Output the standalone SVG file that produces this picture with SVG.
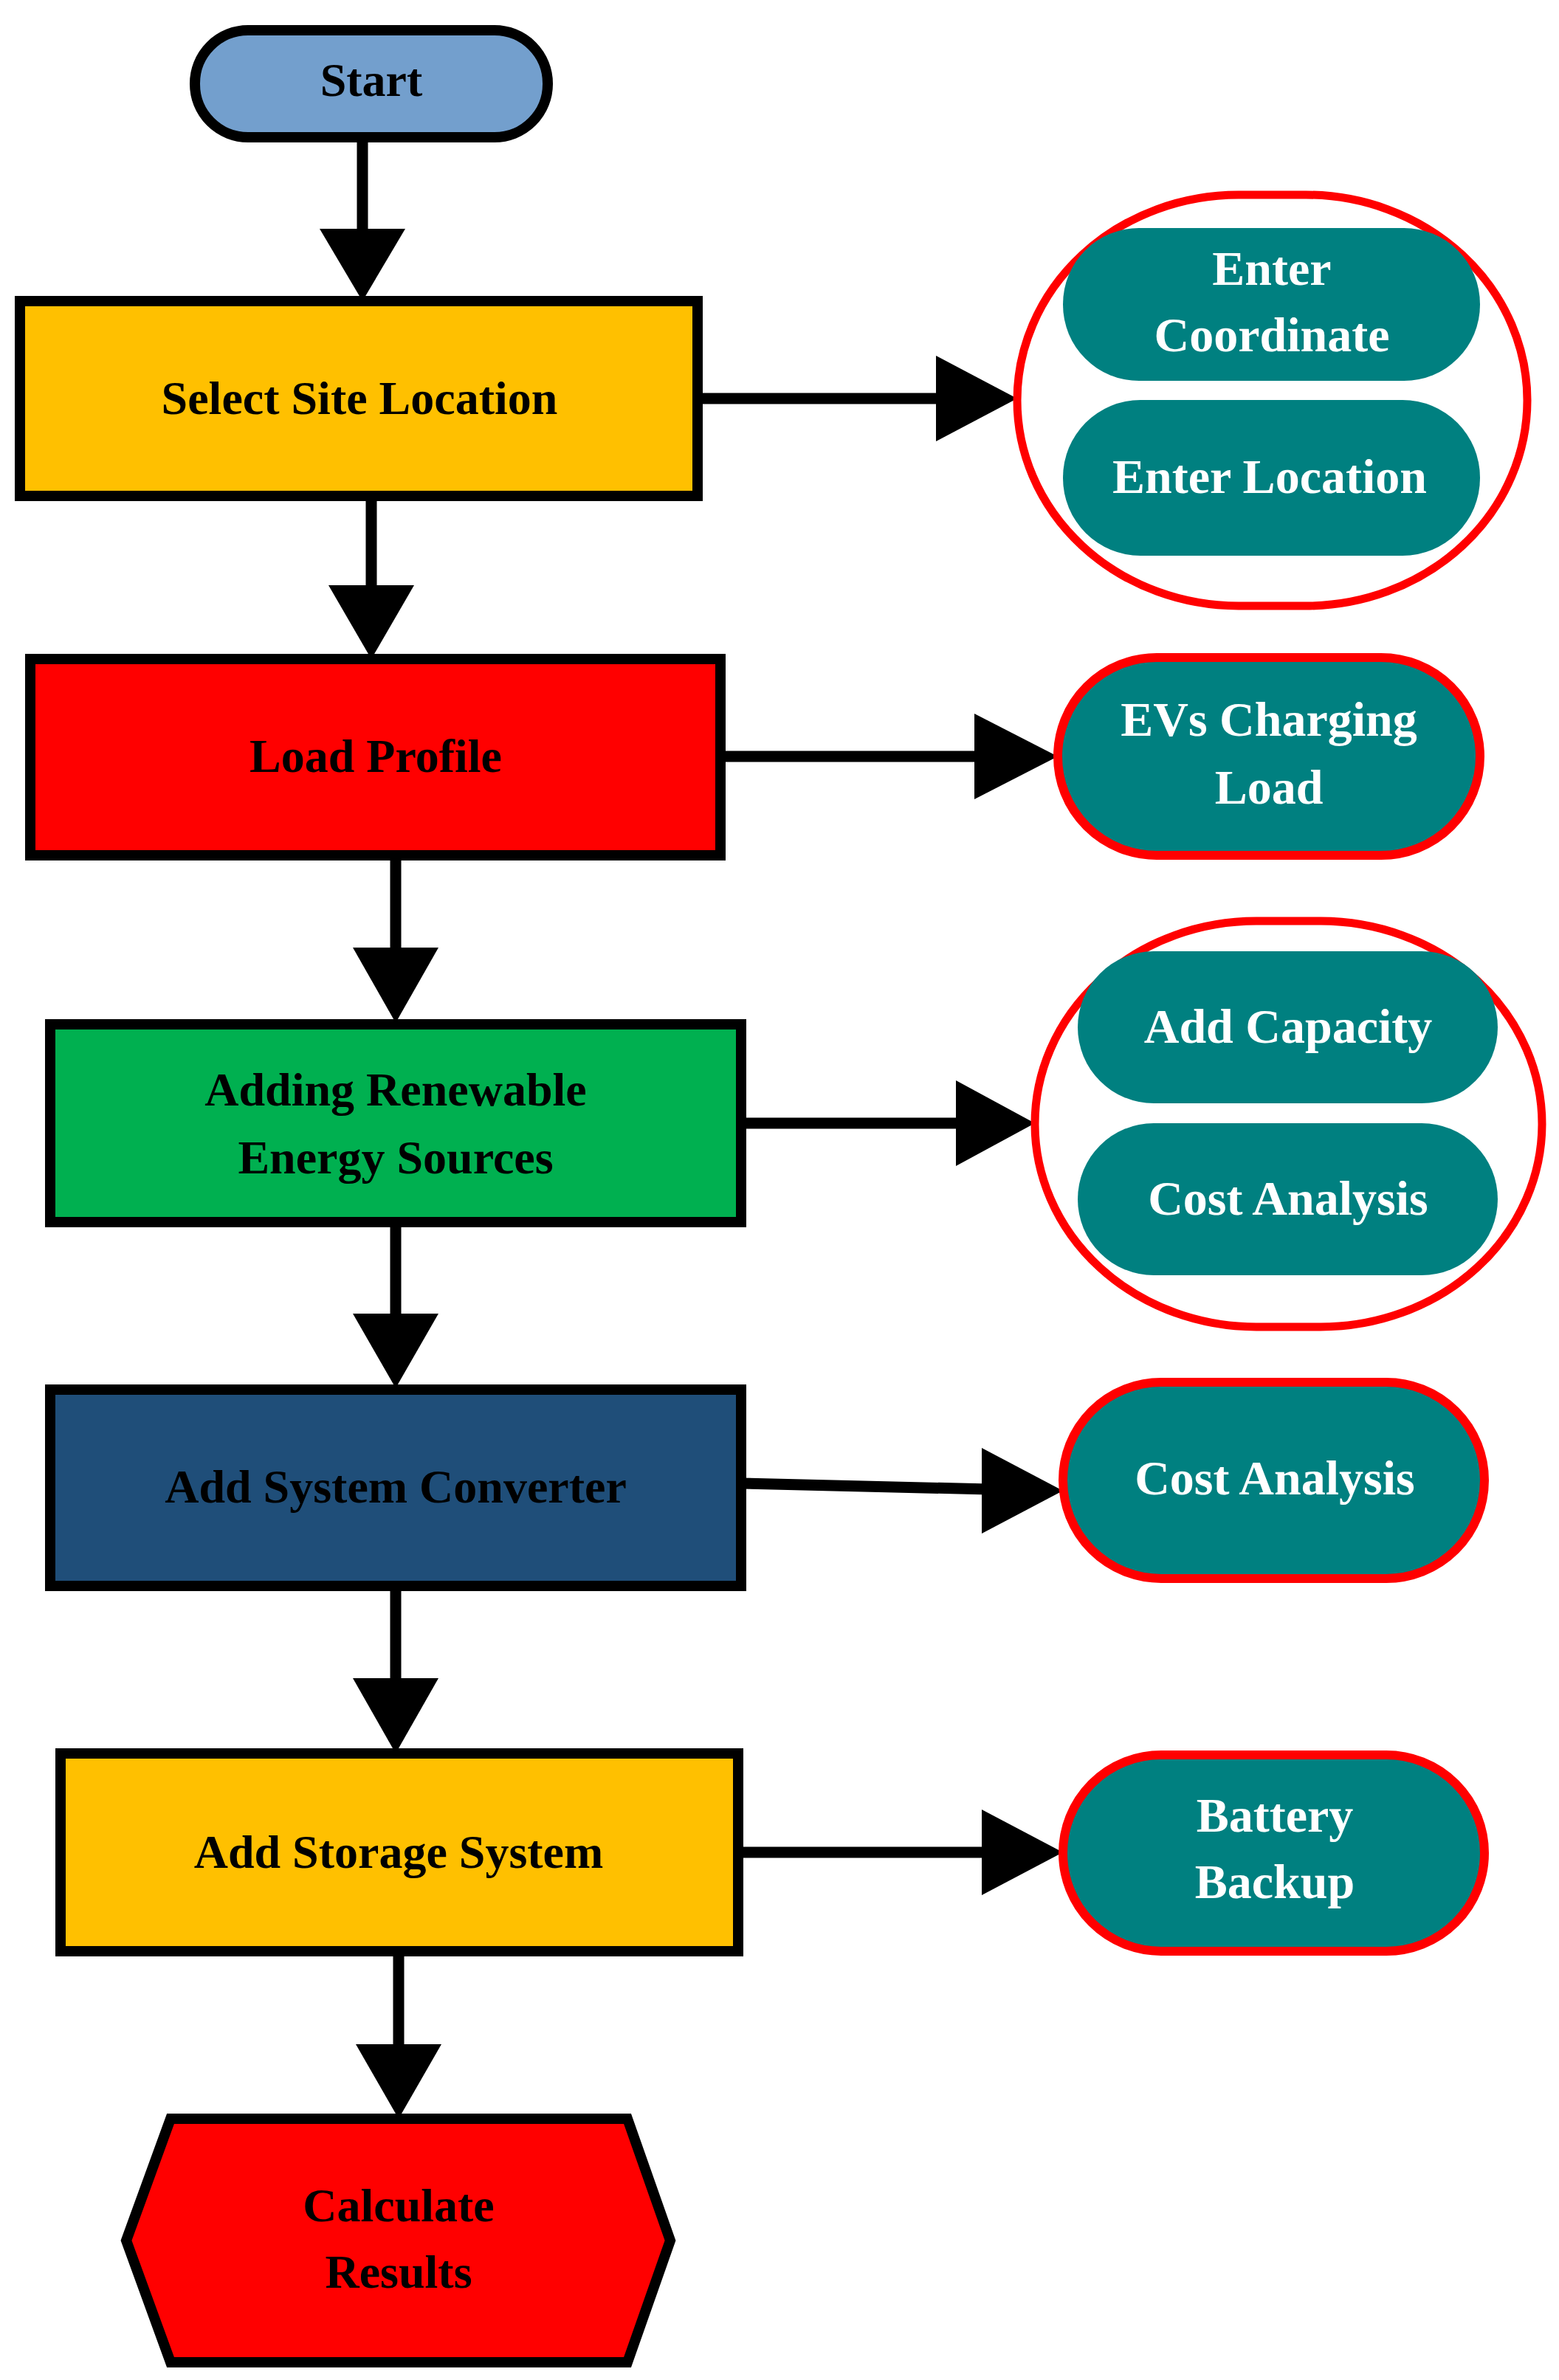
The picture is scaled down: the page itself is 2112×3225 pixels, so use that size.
<svg xmlns="http://www.w3.org/2000/svg" width="2112" height="3225" viewBox="0 0 2112 3225">
<defs>
<style>
.box{stroke:#000;stroke-width:14}
.t{font-family:"Liberation Serif",serif;font-weight:bold;font-size:64px;text-anchor:middle;fill:#000}
.w{font-family:"Liberation Serif",serif;font-weight:bold;font-size:66px;text-anchor:middle;fill:#fff}
.pill{fill:#008080}
.ring{fill:none;stroke:#f00;stroke-width:11}
.pr{fill:#008080;stroke:#f00;stroke-width:12}
.ln{stroke:#000;stroke-width:15;fill:none}
.hd{fill:#000}
</style>
</defs>
<rect width="2112" height="3225" fill="#fff"/>
<g id="connectors">
<line class="ln" x1="491" y1="186" x2="491" y2="320"/><polygon class="hd" points="433,310 549,310 491,408"/>
<line class="ln" x1="945" y1="540" x2="1280" y2="540"/><polygon class="hd" points="1268,482 1268,598 1378,540"/>
<line class="ln" x1="503" y1="672" x2="503" y2="800"/><polygon class="hd" points="445,793 561,793 503,893"/>
<line class="ln" x1="976" y1="1025" x2="1330" y2="1025"/><polygon class="hd" points="1320,967 1320,1083 1433,1025"/>
<line class="ln" x1="536" y1="1159" x2="536" y2="1290"/><polygon class="hd" points="478,1284 594,1284 536,1386"/>
<line class="ln" x1="1004" y1="1522" x2="1305" y2="1522"/><polygon class="hd" points="1295,1464 1295,1580 1402,1522"/>
<line class="ln" x1="536" y1="1656" x2="536" y2="1790"/><polygon class="hd" points="478,1780 594,1780 536,1881"/>
<line class="ln" x1="1004" y1="2010" x2="1340" y2="2018"/><polygon class="hd" points="1330,1962 1330,2078 1440,2020"/>
<line class="ln" x1="536" y1="2149" x2="536" y2="2280"/><polygon class="hd" points="478,2274 594,2274 536,2376"/>
<line class="ln" x1="1000" y1="2510" x2="1340" y2="2510"/><polygon class="hd" points="1330,2452 1330,2568 1440,2510"/>
<line class="ln" x1="540" y1="2644" x2="540" y2="2780"/><polygon class="hd" points="482,2770 598,2770 540,2871"/>
</g>
<g id="start"><rect class="box" x="264" y="41" width="478" height="145" rx="72" fill="#729FCF" style="fill:#739fcd"/><text class="t" x="503" y="130">Start</text></g>
<g id="select"><rect class="box" x="27" y="408" width="918" height="264" fill="#FFC000"/><text class="t" x="487" y="561">Select Site Location</text></g>
<g id="load"><rect class="box" x="41" y="893" width="935" height="266" fill="#FF0000"/><text class="t" x="509" y="1046">Load Profile</text></g>
<g id="adding"><rect class="box" x="68" y="1388" width="936" height="268" fill="#00B050"/><text class="t" x="536" y="1498">Adding Renewable</text><text class="t" x="536" y="1590">Energy Sources</text></g>
<g id="converter"><rect class="box" x="68" y="1883" width="936" height="266" fill="#1F4E79"/><text class="t" x="536" y="2036">Add System Converter</text></g>
<g id="storage"><rect class="box" x="82" y="2376" width="918" height="268" fill="#FFC000"/><text class="t" x="540" y="2531">Add Storage System</text></g>
<g id="calc"><polygon class="box" points="171,3036 231,2871 850,2871 908,3036 850,3201 231,3201" fill="#FF0000"/><text class="t" x="540" y="3010">Calculate</text><text class="t" x="540" y="3100">Results</text></g>
<g id="site-options"><rect class="ring" x="1378" y="264" width="691" height="557" rx="300"/>
<rect class="pill" x="1440" y="309" width="565" height="207" rx="103"/><text class="w" x="1723" y="386">Enter</text><text class="w" x="1723" y="476">Coordinate</text>
<rect class="pill" x="1440" y="542" width="565" height="211" rx="105"/><text class="w" x="1720" y="668">Enter Location</text></g>
<g id="ev"><rect class="pr" x="1433" y="891" width="572" height="268" rx="134"/><text class="w" x="1719" y="997">EVs Charging</text><text class="w" x="1719" y="1089">Load</text></g>
<g id="res-options"><rect class="ring" x="1402" y="1248" width="687" height="550" rx="300"/>
<rect class="pill" x="1460" y="1289" width="569" height="206" rx="103"/><text class="w" x="1745" y="1413">Add Capacity</text>
<rect class="pill" x="1460" y="1522" width="569" height="206" rx="103"/><text class="w" x="1745" y="1646">Cost Analysis</text></g>
<g id="cost2"><rect class="pr" x="1440" y="1873" width="571" height="266" rx="133"/><text class="w" x="1727" y="2025">Cost Analysis</text></g>
<g id="battery"><rect class="pr" x="1440" y="2378" width="571" height="266" rx="133"/><text class="w" x="1727" y="2482">Battery</text><text class="w" x="1727" y="2572">Backup</text></g>
</svg>
